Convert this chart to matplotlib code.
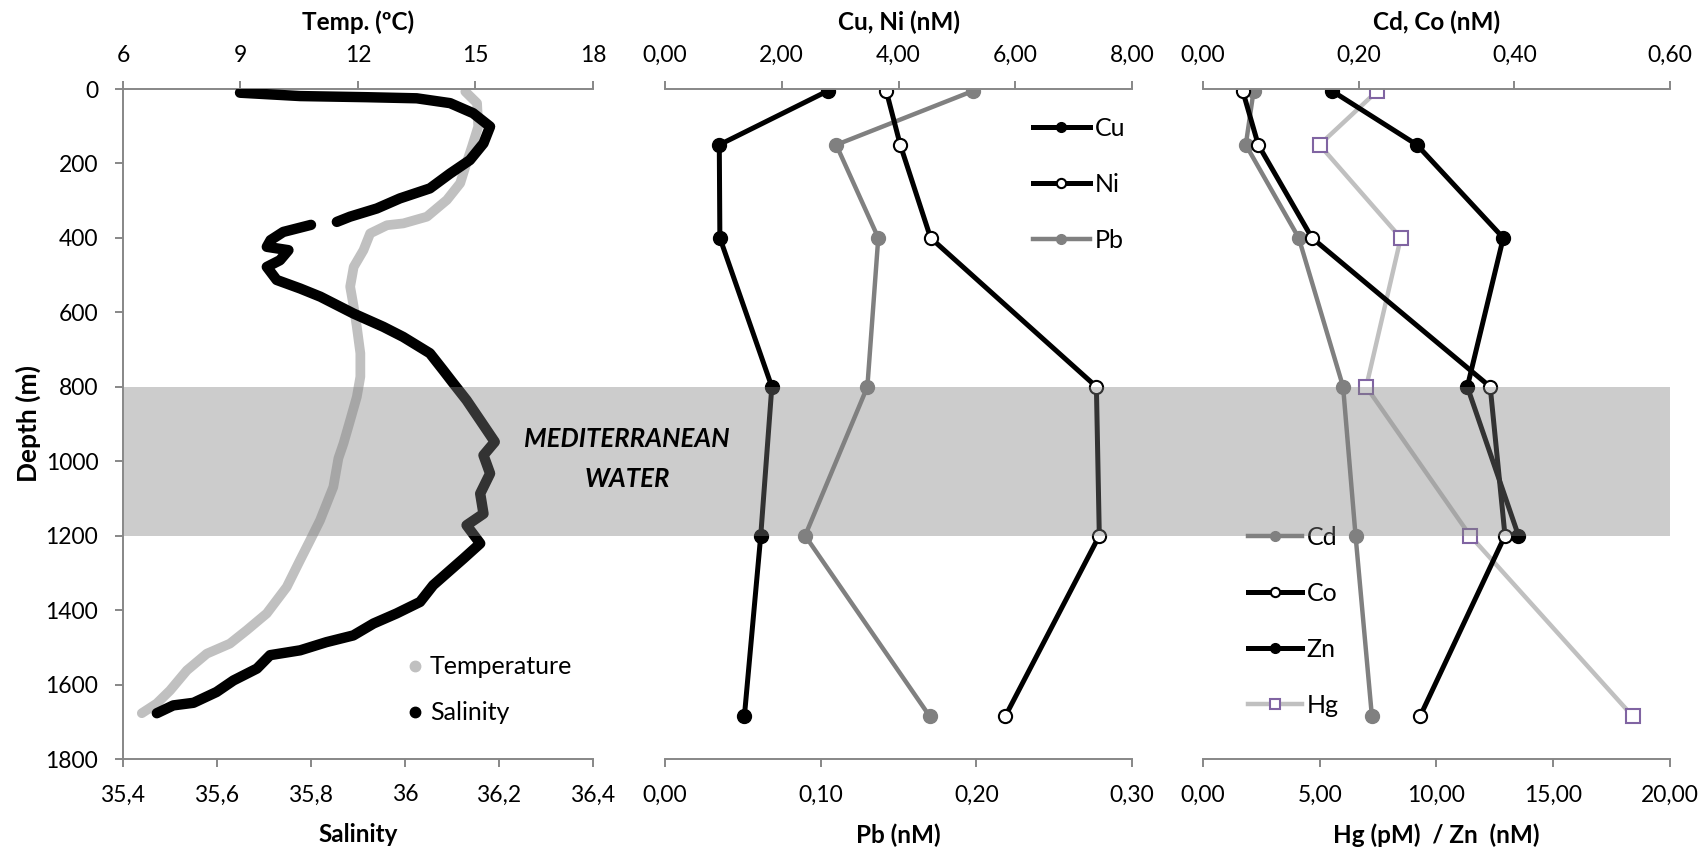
import matplotlib.pyplot as plt
import numpy as np
from matplotlib.lines import Line2D
from matplotlib.patches import Rectangle
from matplotlib.ticker import FuncFormatter
from matplotlib.transforms import blended_transform_factory

plt.rcParams['font.family'] = ['Lato', 'DejaVu Sans']

W, H = 1708, 855

# CTD profile (panel 1)
temp_depth = [7, 38, 101, 155, 209, 253, 298, 343, 361, 366, 388, 433, 478, 531,
              585, 639, 710, 773, 827, 890, 952, 992, 1069, 1159, 1212, 1266,
              1338, 1409, 1454, 1490, 1517, 1562, 1616, 1651, 1677]
temp_vals = [14.74, 15.04, 15.07, 14.91, 14.74, 14.61, 14.27, 13.76, 13.16, 12.74,
             12.31, 12.14, 11.89, 11.80, 11.89, 11.97, 12.06, 12.06, 11.97, 11.80,
             11.63, 11.50, 11.37, 11.03, 10.78, 10.52, 10.18, 9.67, 9.16, 8.73,
             8.14, 7.63, 7.20, 6.86, 6.48]
sal_depth = [10, 19, 22, 25, 38, 65, 101, 146, 191, 227, 267, 294, 321, 343, 357,
             np.nan, 365, 384, 406, 424, 433, 460, 478, 513, 536, 558, 603, 639,
             666, 710, 755, 791, 836, 890, 948, 984, 1033, 1087, 1141, 1172, 1221,
             1262, 1293, 1333, 1378, 1409, 1436, 1468, 1486, 1508, 1521, 1557,
             1589, 1620, 1649, 1656, 1677]
sal_vals = [35.649, 35.777, 35.918, 36.025, 36.096, 36.145, 36.181, 36.167,
            36.138, 36.096, 36.053, 35.989, 35.940, 35.883, 35.855, np.nan,
            35.800, 35.741, 35.714, 35.706, 35.752, 35.734, 35.706, 35.727,
            35.777, 35.820, 35.890, 35.954, 35.996, 36.053, 36.081, 36.103,
            36.131, 36.160, 36.191, 36.167, 36.181, 36.160, 36.167, 36.131,
            36.160, 36.124, 36.096, 36.060, 36.032, 35.982, 35.933, 35.890,
            35.833, 35.777, 35.713, 35.685, 35.635, 35.599, 35.550, 35.507,
            35.472]

# bottle samples
depth = [5, 150, 400, 800, 1200, 1685]
cu = [2.79, 0.93, 0.94, 1.83, 1.64, 1.36]
ni = [3.79, 4.03, 4.55, 7.39, 7.44, 5.83]
pb = [0.198, 0.110, 0.137, 0.130, 0.090, 0.170]
cd = [0.065, 0.055, 0.123, 0.180, 0.196, 0.217]
co = [0.051, 0.071, 0.140, 0.369, 0.388, 0.279]
zn_depth = [5, 150, 400, 800, 1200]
zn = [5.52, 9.16, 12.86, 11.32, 13.51]
hg = [7.47, 4.99, 8.47, 6.99, 11.44, 18.40]

depth_ticks = list(range(0, 1801, 200))
temp_ticks = [6, 9, 12, 15, 18]
sal_ticks = [35.4, 35.6, 35.8, 36.0, 36.2, 36.4]
cuni_ticks = [0, 2, 4, 6, 8]
pb_ticks = [0, 0.1, 0.2, 0.3]
cdco_ticks = [0, 0.2, 0.4, 0.6]
hgzn_ticks = [0, 5, 10, 15, 20]

GREY = '#878787'
TICK_FS = 16.5
TITLE_FS = 17.5
LEG_FS = 18


def comma(fmt):
    return FuncFormatter(lambda v, p: format(v, fmt).replace('.', ','))


def rect(x0, x1, y0=89, y1=759):
    return [x0 / W, 1 - y1 / H, (x1 - x0) / W, (y1 - y0) / H]


def make_panel(pos, top_lim, bot_lim, top_ticks, bot_ticks, top_fmt, bot_fmt,
               top_label, bot_label, show_y=False):
    ax = fig.add_axes(pos)
    top = ax.twiny()
    ax.set_ylim(1800, 0)
    ax.set_xlim(*bot_lim)
    top.set_xlim(*top_lim)
    for a in (ax, top):
        for s in a.spines.values():
            s.set_visible(False)
    for a, side in ((ax, 'bottom'), (top, 'top')):
        a.spines[side].set_visible(True)
        a.spines[side].set_color(GREY)
        a.spines[side].set_linewidth(1.4)
    ax.set_xticks(bot_ticks)
    top.set_xticks(top_ticks)
    ax.xaxis.set_major_formatter(comma(bot_fmt))
    top.xaxis.set_major_formatter(comma(top_fmt))
    ax.tick_params(axis='x', direction='out', length=5.8, width=1.4, color=GREY,
                   labelsize=TICK_FS, pad=12.5)
    top.tick_params(axis='x', direction='out', length=5.8, width=1.4, color=GREY,
                    labelsize=TICK_FS, pad=11)
    ax.set_xlabel(bot_label, fontsize=TITLE_FS, fontweight='bold', labelpad=13)
    top.set_xlabel(top_label, fontsize=TITLE_FS, fontweight='bold', labelpad=10.5)
    if show_y:
        ax.spines['left'].set_visible(True)
        ax.spines['left'].set_color(GREY)
        ax.spines['left'].set_linewidth(1.4)
        ax.set_yticks(depth_ticks)
        ax.tick_params(axis='y', direction='out', length=5.8, width=1.4,
                       color=GREY, labelsize=TICK_FS, pad=12)
        ax.set_ylabel('Depth (m)', fontsize=19, fontweight='bold', labelpad=3)
    else:
        ax.tick_params(axis='y', left=False, labelleft=False)
    return ax, top


fig = plt.figure(figsize=(W / 100, H / 100), dpi=100)

# panel 1: temperature / salinity
ax1, ax1t = make_panel(rect(123, 593), (6, 18), (35.4, 36.4), temp_ticks, sal_ticks,
                       'g', 'g', 'Temp. (ºC)', 'Salinity', show_y=True)
ax1.set_zorder(2)
ax1.patch.set_visible(False)
ax1t.plot(temp_vals, temp_depth, color='#c0c0c0', lw=7, solid_capstyle='round',
          solid_joinstyle='round')
ax1.plot(sal_vals, sal_depth, color='black', lw=7.5, solid_capstyle='round',
         solid_joinstyle='round')
h_t = Line2D([], [], ls='none', marker='o', ms=7.5, color='#c0c0c0')
h_s = Line2D([], [], ls='none', marker='o', ms=7.5, color='black')
ax1.legend([h_t, h_s], ['Temperature', 'Salinity'], loc='center left',
           bbox_to_anchor=(404 / W, 1 - 690 / H), bbox_transform=fig.transFigure,
           frameon=False, fontsize=LEG_FS, borderpad=0, borderaxespad=0,
           handlelength=0.9, handletextpad=0.14, labelspacing=0.92)

# panel 2: Cu, Ni, Pb
ax2, ax2t = make_panel(rect(665, 1132), (0, 8), (0, 0.3), cuni_ticks, pb_ticks,
                       '.2f', '.2f', 'Cu, Ni (nM)', 'Pb (nM)')
l_pb, = ax2.plot(pb, depth, color='#808080', lw=3.2, marker='o', ms=10)
l_cu, = ax2t.plot(cu, depth, color='black', lw=3.6, marker='o', ms=10)
l_ni, = ax2t.plot(ni, depth, color='black', lw=3.6, marker='o', ms=9.5,
                  mfc='white', mec='black', mew=1.5)
ax2t.legend([l_cu, l_ni, l_pb], ['Cu', 'Ni', 'Pb'], loc='center left',
            bbox_to_anchor=(1033 / W, 1 - 184 / H), bbox_transform=fig.transFigure,
            frameon=False, fontsize=LEG_FS, borderpad=0, borderaxespad=0,
            handlelength=2.28, handletextpad=0.2, labelspacing=1.32,
            markerscale=0.7)

# panel 3: Cd, Co, Zn, Hg
ax3, ax3t = make_panel(rect(1203, 1670), (0, 0.6), (0, 20), cdco_ticks, hgzn_ticks,
                       '.2f', '.2f', 'Cd, Co (nM)', 'Hg (pM)  / Zn  (nM)')
l_hg, = ax3.plot(hg, depth, color='#c0c0c0', lw=3.2, marker='s', ms=10,
                 mfc='white', mec='#8064a2', mew=1.5)
l_zn, = ax3.plot(zn, zn_depth, color='black', lw=3.6, marker='o', ms=10)
l_cd, = ax3t.plot(cd, depth, color='#808080', lw=3.2, marker='o', ms=10)
l_co, = ax3t.plot(co, depth, color='black', lw=3.6, marker='o', ms=9.5,
                  mfc='white', mec='black', mew=1.5)
ax3t.legend([l_cd, l_co, l_zn, l_hg], ['Cd', 'Co', 'Zn', 'Hg'], loc='center left',
            bbox_to_anchor=(1248 / W, 1 - 621 / H), bbox_transform=fig.transFigure,
            frameon=False, fontsize=LEG_FS, borderpad=0, borderaxespad=0,
            handlelength=2.16, handletextpad=0.19, labelspacing=1.32,
            markerscale=0.7)

# Mediterranean water band over all panels
band_tr = blended_transform_factory(fig.transFigure, ax1.transData)
fig.add_artist(Rectangle((124 / W, 800), (1670 - 124) / W, 400, transform=band_tr,
                         facecolor='#808080', alpha=0.4, edgecolor='none', zorder=5))
fig.text(627 / W, 1 - 439 / H, 'MEDITERRANEAN', ha='center', va='center',
         fontsize=18.5, fontweight='bold', fontstyle='italic', zorder=6)
fig.text(627 / W, 1 - 479 / H, 'WATER', ha='center', va='center',
         fontsize=18.5, fontweight='bold', fontstyle='italic', zorder=6)

fig.savefig('out.png', dpi=100)
